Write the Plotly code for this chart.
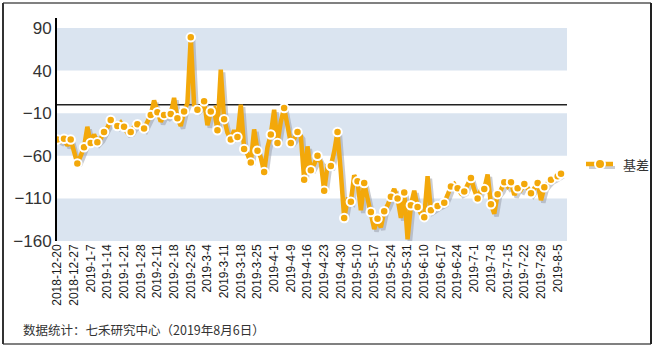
import plotly.graph_objects as go

# ---- data ----
basis = [
    -41, -43, -40, -48, -41, -55, -69, -60, -50, -26,
    -45, -35, -44, -40, -32, -27, -18, -21, -25, -21,
    -26, -33, -32, -26, -23, -24, -28, -20, -12, 5,
    -9, -20, -12, -14, -11, 8, -16, -25, -8, 2,
    79, 0, -6, -3, 4, -24, -8, -5, -30, 41,
    -17, -33, -41, -30, -38, 0, -52, -58, -68, -29,
    -54, -62, -79, -50, -35, -6, -45, -20, -4, -24,
    -45, -40, -32, -37, -88, -49, -77, -70, -60, -68,
    -101, -72, -72, -55, -32, -80, -133, -112, -114, -83,
    -90, -124, -92, -110, -126, -146, -134, -144, -125, -118,
    -108, -99, -110, -133, -103, -158, -118, -101, -120, -128,
    -132, -84, -124, -121, -119, -117, -115, -106, -96, -93,
    -98, -104, -102, -95, -86, -100, -110, -100, -99, -82,
    -117, -128, -105, -100, -91, -96, -91, -106, -98, -100,
    -93, -98, -104, -98, -92, -112, -97, -92, -88, -86,
    -84, -81,
]
tick_labels = [
    "2018-12-20", "2018-12-27", "2019-1-7", "2019-1-14", "2019-1-21",
    "2019-1-28", "2019-2-11", "2019-2-18", "2019-2-25", "2019-3-4",
    "2019-3-11", "2019-3-18", "2019-3-25", "2019-4-1", "2019-4-9",
    "2019-4-16", "2019-4-23", "2019-4-30", "2019-5-10", "2019-5-17",
    "2019-5-24", "2019-5-31", "2019-6-10", "2019-6-17", "2019-6-24",
    "2019-7-1", "2019-7-8", "2019-7-15", "2019-7-22", "2019-7-29",
    "2019-8-5",
]
label_step = 5
y_ticks = [90, 40, -10, -60, -110, -160]
bands = [(40, 90), (-60, -10), (-160, -110)]
series_name = "基差"
source_note = "数据统计：七禾研究中心（2019年8月6日）"

# ---- styling / layout ----
W, H = 655, 348
L, R, T, B = 57, 88, 18, 107
PW, PH = W - L - R, H - T - B
ORANGE = "#F3A80A"
BAND = "#DAE4F0"
SHADOW = "rgba(140,145,155,0.45)"


def px(x):
    return (x - L) / PW


def py(y):
    return (H - B - y) / PH


idx = list(range(len(basis)))
mk_idx = [i for i in idx if i % 2 == 0 or i == len(basis) - 1]

fig = go.Figure()
# soft shadow under the line
fig.add_trace(go.Scatter(
    x=[i + 0.7 for i in idx], y=[v - 3 for v in basis], mode="lines",
    line=dict(color=SHADOW, width=4.5),
    hoverinfo="skip", showlegend=False))
fig.add_trace(go.Scatter(
    x=idx, y=basis, mode="lines", name=series_name,
    line=dict(color=ORANGE, width=4.5),
    showlegend=False))
fig.add_trace(go.Scatter(
    x=mk_idx, y=[basis[i] for i in mk_idx], mode="markers", name=series_name,
    marker=dict(color=ORANGE, size=8.5, line=dict(color="white", width=2)),
    showlegend=False))

shapes = []
for lo, hi in bands:
    shapes.append(dict(type="rect", xref="paper", yref="y", x0=0, x1=1,
                       y0=lo, y1=hi, fillcolor=BAND, line=dict(width=0),
                       layer="below"))
shapes.append(dict(type="line", xref="paper", yref="y", x0=0, x1=1, y0=0, y1=0,
                   line=dict(color="#222222", width=1.5), layer="below"))
# outer frame
for (x0, y0, x1, y1, c) in [(3, 3, 651, 3, "#808080"), (3, 344, 651, 344, "#808080"),
                            (3, 3, 3, 344, "#333333"), (651, 3, 651, 344, "#222222")]:
    shapes.append(dict(type="line", xref="paper", yref="paper",
                       x0=px(x0), x1=px(x1), y0=py(y0), y1=py(y1),
                       line=dict(color=c, width=2)))
# legend symbol (drawn by hand so it sits where the reference has it)
shapes.append(dict(type="line", xref="paper", yref="paper",
                   x0=px(589), x1=px(615), y0=py(167.5), y1=py(167.5),
                   line=dict(color=SHADOW, width=3)))
shapes.append(dict(type="line", xref="paper", yref="paper",
                   x0=px(586), x1=px(613), y0=py(164), y1=py(164),
                   line=dict(color=ORANGE, width=4.5)))
shapes.append(dict(type="circle", xref="paper", yref="paper",
                   x0=px(595), x1=px(605), y0=py(169), y1=py(159),
                   fillcolor=ORANGE, line=dict(color="white", width=2)))

fig.update_layout(
    width=W, height=H,
    margin=dict(l=L, r=R, t=T, b=B, pad=0),
    paper_bgcolor="white", plot_bgcolor="white",
    shapes=shapes,
    showlegend=False,
    annotations=[
        dict(text=source_note, xref="paper", yref="paper",
             x=px(21), y=py(329), xanchor="left", yanchor="middle",
             showarrow=False,
             font=dict(family="Noto Sans CJK SC", size=12.5, color="#333333")),
        dict(text=series_name, xref="paper", yref="paper",
             x=px(621), y=py(164), xanchor="left", yanchor="middle",
             showarrow=False,
             font=dict(family="Noto Sans CJK SC", size=13, color="#333333")),
    ],
)
fig.update_xaxes(range=[-0.1, 152.8], showgrid=False, zeroline=False, showline=False,
                 tickmode="array",
                 tickvals=[i * label_step for i in range(len(tick_labels))],
                 ticktext=tick_labels, tickangle=-90,
                 tickfont=dict(family="Liberation Sans, Arial", size=12, color="#1a1a1a"))
fig.update_yaxes(range=[-160, 101.7], showgrid=False, zeroline=False,
                 showline=True, linecolor="black", linewidth=2,
                 tickmode="array", tickvals=y_ticks,
                 tickfont=dict(family="Liberation Sans, Arial", size=17, color="#333333"))

fig.write_html("out.html")
